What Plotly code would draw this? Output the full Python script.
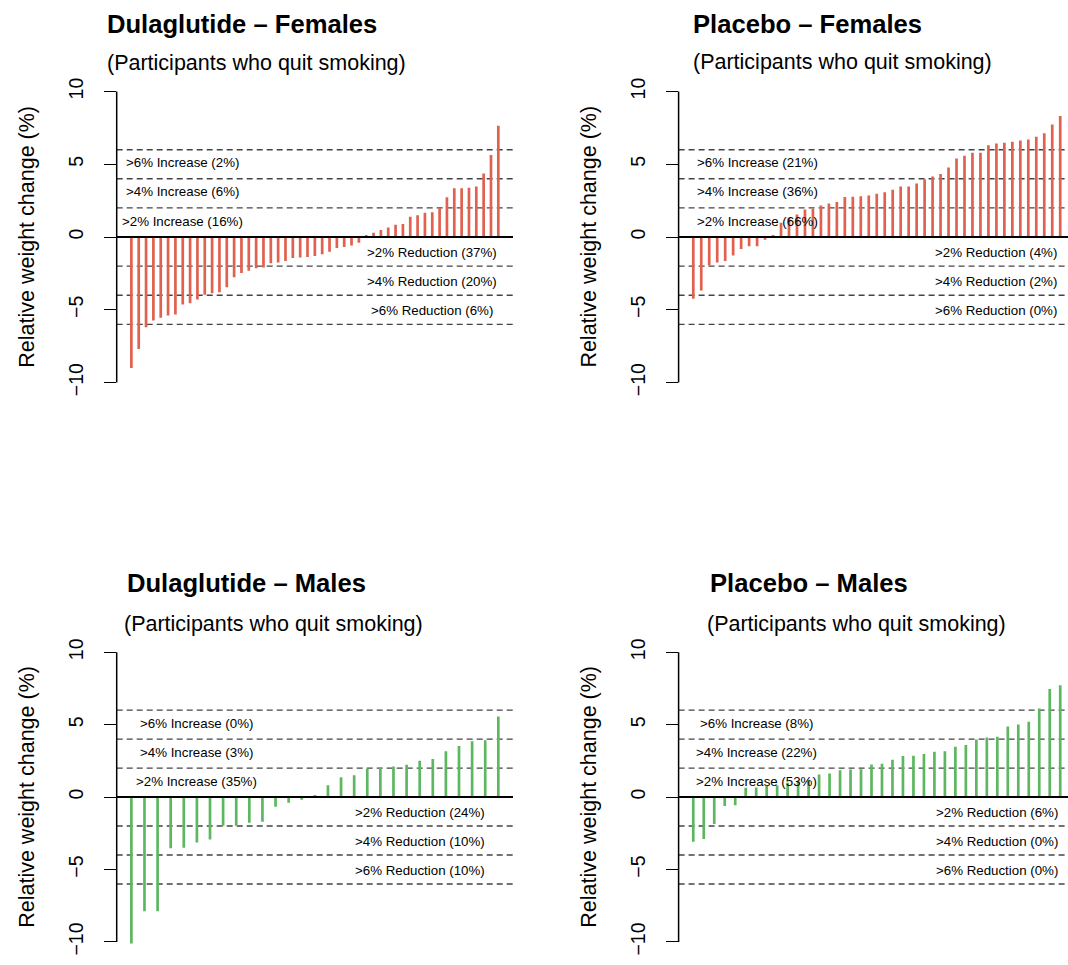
import plotly.graph_objects as go

W, H = 1068, 965

# ---------------- data ----------------
dula_f = [-9.0, -7.7, -6.2, -5.73, -5.55, -5.39, -5.32, -4.64, -4.55, -4.30,
          -3.96, -3.86, -3.80, -3.45, -2.77, -2.48, -2.32, -2.14, -2.09, -1.80,
          -1.75, -1.64, -1.45, -1.41, -1.38, -1.30, -1.18, -1.02, -0.75, -0.68,
          -0.59, -0.39, 0.14, 0.30, 0.48, 0.66, 0.84, 0.89, 1.39, 1.50,
          1.66, 1.70, 1.97, 2.73, 3.36, 3.36, 3.39, 3.48, 4.36, 5.64, 7.64]
plac_f = [-4.25, -3.68, -1.95, -1.75, -1.64, -1.27, -0.82, -0.64, -0.64, -0.18,
          0.14, 0.98, 1.32, 1.55, 1.89, 1.95, 2.16, 2.30, 2.41, 2.75,
          2.77, 2.80, 2.86, 2.98, 3.07, 3.25, 3.48, 3.48, 3.68, 3.97,
          4.16, 4.34, 4.77, 5.39, 5.59, 5.80, 5.80, 6.30, 6.43, 6.48,
          6.55, 6.64, 6.70, 6.89, 7.14, 7.73, 8.32]
dula_m = [-10.1, -7.88, -7.88, -3.54, -3.49, -3.13, -2.92, -1.98, -1.97, -1.78,
          -1.71, -0.66, -0.39, -0.18, 0.14, 0.82, 1.37, 1.51, 1.96, 2.05,
          2.12, 2.24, 2.51, 2.63, 3.17, 3.52, 3.86, 3.93, 5.57]
plac_m = [-3.08, -2.90, -1.86, -0.62, -0.57, 0.64, 0.67, 0.80, 0.80, 0.99,
          1.10, 1.20, 1.56, 1.63, 1.86, 1.91, 1.93, 2.25, 2.30, 2.57,
          2.83, 2.85, 2.97, 3.13, 3.17, 3.47, 3.59, 3.97, 4.11, 4.16,
          4.87, 5.01, 5.20, 6.11, 7.47, 7.72]

titles = ["Dulaglutide \u2013 Females", "Placebo \u2013 Females",
          "Dulaglutide \u2013 Males", "Placebo \u2013 Males"]
subtitle = "(Participants who quit smoking)"
ylabel = "Relative weight change (%)"
inc_labels = [
    [">6% Increase (2%)", ">4% Increase (6%)", ">2% Increase (16%)"],
    [">6% Increase (21%)", ">4% Increase (36%)", ">2% Increase (66%)"],
    [">6% Increase (0%)", ">4% Increase (3%)", ">2% Increase (35%)"],
    [">6% Increase (8%)", ">4% Increase (22%)", ">2% Increase (53%)"],
]
red_labels = [
    [">2% Reduction (37%)", ">4% Reduction (20%)", ">6% Reduction (6%)"],
    [">2% Reduction (4%)", ">4% Reduction (2%)", ">6% Reduction (0%)"],
    [">2% Reduction (24%)", ">4% Reduction (10%)", ">6% Reduction (10%)"],
    [">2% Reduction (6%)", ">4% Reduction (0%)", ">6% Reduction (0%)"],
]
inc_x = [8, 9, 6, 7]
red_x = [42, 39, 23, 30]
thresholds = [-6, -4, -2, 2, 4, 6]
yticks = [-10, -5, 0, 5, 10]

RED = "#E0614F"
GREEN = "#5DB761"
panels = [(dula_f, RED), (plac_f, RED), (dula_m, GREEN), (plac_m, GREEN)]

# ---------------- layout geometry ----------------
full_w = 396.3
left_px = [116.7, 678.6, 116.7, 678.6]
ydom_top = [1 - 393.8 / H, 1 - 78.2 / H]
ydom_bot = [1 - 955.5 / H, 1 - 641.3 / H]
ydoms = [ydom_top, ydom_top, ydom_bot, ydom_bot]
title_px = [(105, 22, 105, 61), (691, 22, 691, 60), (125, 583, 122, 625), (708, 583, 705, 625)]

fig = go.Figure()
layout = dict(width=W, height=H, margin=dict(l=0, r=0, t=0, b=0),
              paper_bgcolor="white", plot_bgcolor="white", showlegend=False,
              font=dict(family="Liberation Sans, Arial, Helvetica, sans-serif", color="black"))
annotations = []
shapes = []

for k, (vals, col) in enumerate(panels):
    n = len(vals)
    pad = 0.04 * (n - 1)
    x0 = 1 - pad
    span = n - 1 + 2 * pad
    avail = W - left_px[k]
    frac = min(1.0, avail / full_w)
    x1 = x0 + span * frac
    dom_x = [left_px[k] / W, min(1.0, (left_px[k] + full_w) / W)]
    xa = "x" if k == 0 else f"x{k+1}"
    ya = "y" if k == 0 else f"y{k+1}"
    xs, ys = [], []
    for i, v in enumerate(vals, start=1):
        xs += [i, i, None]
        ys += [0, v, None]
    fig.add_trace(go.Scatter(x=xs, y=ys, mode="lines", xaxis=xa, yaxis=ya,
                             line=dict(color=col, width=2.7), hoverinfo="skip"))
    layout[f"xaxis{'' if k == 0 else k+1}"] = dict(domain=dom_x, range=[x0, x1], visible=False,
                                                   anchor=ya)
    layout[f"yaxis{'' if k == 0 else k+1}"] = dict(
        domain=ydoms[k], range=[-10.8, 10.8], anchor=xa, tickvals=yticks,
        ticks="outside", ticklen=12, tickwidth=1.3, tickcolor="black",
        showgrid=False, zeroline=False, showline=False, tickangle=-90,
        tickfont=dict(size=19.5, color="black"), ticklabelstandoff=13)
    # dashed threshold lines
    for t in thresholds:
        shapes.append(dict(type="line", xref=f"{xa} domain", yref=ya, x0=0, x1=1, y0=t, y1=t,
                           line=dict(color="#444444", width=1.4, dash="6px,4px"), layer="below"))
    # zero line
    shapes.append(dict(type="line", xref=f"{xa} domain", yref=ya, x0=0, x1=1, y0=0, y1=0,
                       line=dict(color="black", width=2), layer="above"))
    # y axis line from -10 to 10
    shapes.append(dict(type="line", xref=f"{xa} domain", yref=ya, x0=0, x1=0, y0=-10, y1=10,
                       line=dict(color="black", width=1.5)))
    # labels
    for lab, yy in zip(inc_labels[k], [5.1, 3.1, 1.1]):
        annotations.append(dict(text=lab, xref=xa, yref=ya, x=inc_x[k], y=yy, showarrow=False,
                                xanchor="center", yanchor="middle", font=dict(size=13.3)))
    for lab, yy in zip(red_labels[k], [-1.05, -3.05, -5.05]):
        annotations.append(dict(text=lab, xref=xa, yref=ya, x=red_x[k], y=yy, showarrow=False,
                                xanchor="center", yanchor="middle", font=dict(size=13.3)))
    # titles
    tx, ty, sx, sy = title_px[k]
    annotations.append(dict(text=f"<b>{titles[k]}</b>", xref="paper", yref="paper",
                            x=tx / W, y=1 - ty / H, xanchor="left", yanchor="middle",
                            showarrow=False, font=dict(size=25.6)))
    annotations.append(dict(text=subtitle, xref="paper", yref="paper",
                            x=sx / W, y=1 - sy / H, xanchor="left", yanchor="middle",
                            showarrow=False, font=dict(size=21.5)))
    # y axis title
    yc = (ydoms[k][0] + ydoms[k][1]) / 2
    annotations.append(dict(text=ylabel, xref="paper", yref="paper",
                            x=(left_px[k] - 90) / W, y=yc, xanchor="center", yanchor="middle",
                            textangle=-90, showarrow=False, font=dict(size=21.5)))

layout["annotations"] = annotations
layout["shapes"] = shapes
fig.update_layout(**layout)
fig.write_html("out.html", config={"displayModeBar": False},
               post_script="document.body.style.margin='0px';document.body.style.overflow='hidden';")
